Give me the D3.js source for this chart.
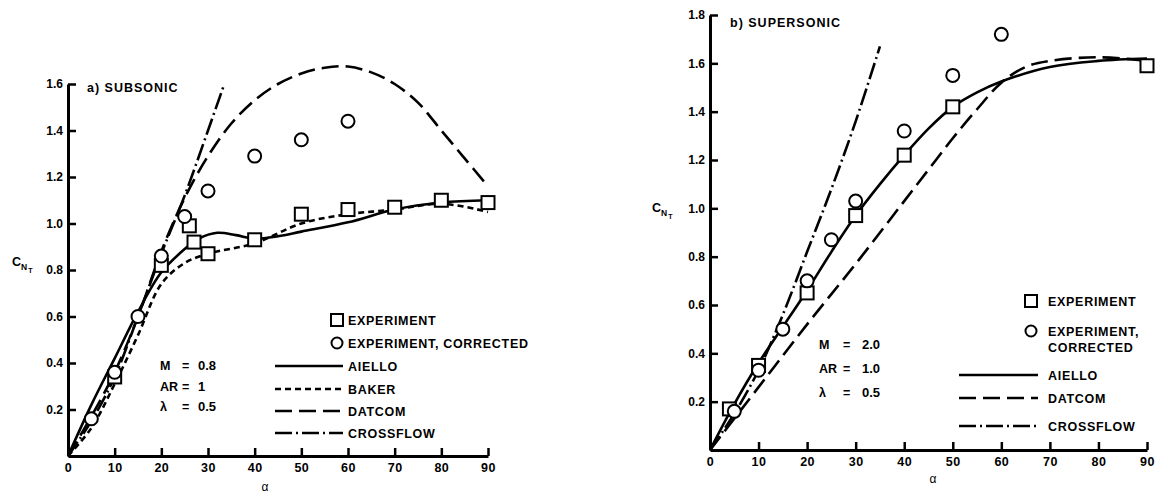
<!DOCTYPE html>
<html>
<head>
<meta charset="utf-8">
<script src="https://cdn.jsdelivr.net/npm/d3@7"></script>
<style>
  body { margin: 0; background: #fff; }
  text { font-family: "Liberation Sans", Arial, sans-serif; font-weight: bold; fill: #000; }
</style>
</head>
<body>
<div id="chart"></div>
<script>
// ---- data ----
const alphaTicks = [0, 10, 20, 30, 40, 50, 60, 70, 80, 90];
const subTicksY = [0.2, 0.4, 0.6, 0.8, 1.0, 1.2, 1.4, 1.6];
const supTicksY = [0.2, 0.4, 0.6, 0.8, 1.0, 1.2, 1.4, 1.6, 1.8];

// a) subsonic
const subExp = [[10, 0.34], [20, 0.82], [26, 0.99], [27, 0.92], [30, 0.87], [40, 0.93],
                [50, 1.04], [60, 1.06], [70, 1.07], [80, 1.10], [90, 1.09]];
const subExpCorr = [[5, 0.16], [10, 0.36], [15, 0.60], [20, 0.86], [25, 1.03],
                    [30, 1.14], [40, 1.29], [50, 1.36], [60, 1.44]];
const subAiello = [[0, 0], [5, 0.22], [10, 0.42], [15, 0.62], [20, 0.79], [25, 0.89], [28, 0.935],
                   [32, 0.96], [36, 0.95], [40, 0.935], [45, 0.945], [50, 0.965], [60, 1.005],
                   [70, 1.06], [80, 1.09], [90, 1.10]];
const subBaker = [[0, 0], [5, 0.12], [10, 0.31], [15, 0.52], [20, 0.74], [25, 0.83], [30, 0.87],
                  [40, 0.915], [50, 1.0], [60, 1.04], [70, 1.06], [80, 1.085], [90, 1.05]];
const subDatcom = [[0, 0], [5, 0.17], [10, 0.36], [15, 0.60], [20, 0.88], [25, 1.11], [30, 1.29],
                   [35, 1.43], [40, 1.53], [45, 1.60], [50, 1.645], [55, 1.67], [60, 1.675],
                   [65, 1.65], [70, 1.60], [75, 1.52], [80, 1.40], [85, 1.28], [90, 1.16]];
const subCrossflow = [[0, 0], [5, 0.15], [10, 0.34], [15, 0.60], [20, 0.87], [25, 1.12],
                      [30, 1.40], [33.5, 1.60]];

// b) supersonic
const supExp = [[4, 0.17], [10, 0.35], [20, 0.65], [30, 0.97], [40, 1.22], [50, 1.42], [90, 1.59]];
const supExpCorr = [[5, 0.16], [10, 0.33], [15, 0.50], [20, 0.70], [25, 0.87], [30, 1.03],
                    [40, 1.32], [50, 1.55], [60, 1.72]];
const supAiello = [[0, 0], [5, 0.19], [10, 0.36], [15, 0.51], [20, 0.66], [25, 0.82], [30, 0.97],
                   [35, 1.10], [40, 1.22], [45, 1.33], [50, 1.42], [55, 1.48], [60, 1.525],
                   [70, 1.585], [80, 1.61], [90, 1.62]];
const supDatcom = [[0, 0], [10, 0.26], [20, 0.52], [30, 0.77], [40, 1.03], [45, 1.16], [50, 1.29],
                   [55, 1.41], [60, 1.52], [65, 1.585], [70, 1.61], [80, 1.625], [90, 1.61]];
const supCrossflow = [[0, 0], [5, 0.15], [10, 0.33], [15, 0.56], [20, 0.82], [25, 1.08],
                      [30, 1.36], [35, 1.67]];

const width = 1159, height = 493;
const svg = d3.select("#chart").append("svg")
    .attr("width", width)
    .attr("height", height);

const dashes = {
    solid: null,
    baker: "6,4",
    datcom: "17,7",
    crossflow: "17,4,2,4"
};

function panel(opt) {
    const x = d3.scaleLinear().domain([0, 90]).range(opt.xr);
    const y = d3.scaleLinear().domain([0, opt.ymax]).range(opt.yr);
    const g = svg.append("g");

    // axes, ticks pointing inward
    const xa = g.append("g")
        .attr("transform", `translate(0,${opt.yr[0]})`)
        .call(d3.axisBottom(x).tickValues(alphaTicks).tickSizeInner(-8).tickSizeOuter(0).tickPadding(7));
    xa.selectAll("text").style("font-size", "12.5px").style("letter-spacing", "0.5px");
    const ya = g.append("g")
        .attr("transform", `translate(${opt.xr[0]},0)`)
        .call(d3.axisLeft(y).tickValues(opt.yTicks).tickSizeInner(-8).tickSizeOuter(0).tickPadding(5)
            .tickFormat(d3.format(".1f")));
    ya.selectAll("text").style("font-size", "12px");
    g.selectAll(".domain, .tick line").attr("stroke", "#000").attr("stroke-width", 2.5);
    g.selectAll(".domain").attr("stroke-width", 3);

    const line = d3.line()
        .x(d => x(d[0]))
        .y(d => y(d[1]))
        .curve(d3.curveCatmullRom.alpha(0.5));

    opt.curves.forEach(c => {
        g.append("path")
            .attr("d", line(c.data))
            .attr("fill", "none")
            .attr("stroke", "#000")
            .attr("stroke-width", 2.6)
            .attr("stroke-dasharray", dashes[c.style]);
    });

    g.selectAll(".sq").data(opt.exp).enter().append("rect")
        .attr("x", d => x(d[0]) - 6.5)
        .attr("y", d => y(d[1]) - 6.5)
        .attr("width", 13).attr("height", 13)
        .attr("fill", "#fff").attr("stroke", "#000").attr("stroke-width", 2);
    g.selectAll(".ci").data(opt.corr).enter().append("circle")
        .attr("cx", d => x(d[0]))
        .attr("cy", d => y(d[1]))
        .attr("r", 6.5)
        .attr("fill", "#fff").attr("stroke", "#000").attr("stroke-width", 2);

    // title
    g.append("text").attr("x", opt.title[0]).attr("y", opt.title[1])
        .style("font-size", "12.5px").style("letter-spacing", "1px")
        .text(opt.title[2]);

    // y label C_N_T
    const yl = g.append("text").attr("x", opt.ylab[0]).attr("y", opt.ylab[1]).style("font-size", "12.5px");
    yl.append("tspan").text("C");
    yl.append("tspan").attr("dy", 4).style("font-size", "8.5px").text("N");
    yl.append("tspan").attr("dy", 3).attr("dx", 1).style("font-size", "7px").text("T");

    // x label
    g.append("text").attr("x", opt.alab[0]).attr("y", opt.alab[1])
        .attr("text-anchor", "middle").style("font-size", "12px").style("font-weight", "normal")
        .text("\u03b1");

    // parameters
    opt.params.forEach((p, i) => {
        const yy = opt.pPos[1] + i * opt.pStep;
        g.append("text").attr("x", opt.pPos[0]).attr("y", yy).style("font-size", "12.5px").text(p[0]);
        g.append("text").attr("x", opt.pPos[0] + opt.pEq).attr("y", yy).style("font-size", "12.5px").text("=");
        g.append("text").attr("x", opt.pPos[0] + opt.pVal).attr("y", yy).style("font-size", "13px").text(p[1]);
    });

    // legend
    const lg = opt.legend;
    lg.items.forEach(it => {
        if (it.type === "square") {
            g.append("rect").attr("x", lg.mx - 6).attr("y", it.y - 6).attr("width", 12).attr("height", 12)
                .attr("fill", "#fff").attr("stroke", "#000").attr("stroke-width", 2);
        } else if (it.type === "circle") {
            g.append("circle").attr("cx", lg.mx).attr("cy", it.y).attr("r", 5.5)
                .attr("fill", "#fff").attr("stroke", "#000").attr("stroke-width", 2);
        } else {
            g.append("line").attr("x1", lg.l0).attr("x2", lg.l1).attr("y1", it.y).attr("y2", it.y)
                .attr("stroke", "#000").attr("stroke-width", 2.6)
                .attr("stroke-dasharray", dashes[it.type]);
        }
        it.text.forEach((t, k) => {
            g.append("text").attr("x", lg.tx).attr("y", it.y + 5 + k * 16)
                .style("font-size", "12.5px").style("letter-spacing", "0.7px").text(t);
        });
    });
}

panel({
    xr: [68, 488], yr: [456, 84], ymax: 1.6, yTicks: subTicksY,
    exp: subExp, corr: subExpCorr,
    curves: [
        { data: subAiello, style: "solid" },
        { data: subBaker, style: "baker" },
        { data: subDatcom, style: "datcom" },
        { data: subCrossflow, style: "crossflow" }
    ],
    title: [87, 92, "a)  SUBSONIC"],
    ylab: [12, 266],
    alab: [265, 491],
    params: [["M", "0.8"], ["AR", "1"], ["\u03bb", "0.5"]],
    pPos: [160, 370], pStep: 20.5, pEq: 22, pVal: 38,
    legend: {
        mx: 337, l0: 275, l1: 343, tx: 348,
        items: [
            { type: "square", y: 320, text: ["EXPERIMENT"] },
            { type: "circle", y: 343, text: ["EXPERIMENT, CORRECTED"] },
            { type: "solid", y: 366, text: ["AIELLO"] },
            { type: "baker", y: 389, text: ["BAKER"] },
            { type: "datcom", y: 411, text: ["DATCOM"] },
            { type: "crossflow", y: 433, text: ["CROSSFLOW"] }
        ]
    }
});

panel({
    xr: [710, 1147], yr: [450, 15], ymax: 1.8, yTicks: supTicksY,
    exp: supExp, corr: supExpCorr,
    curves: [
        { data: supAiello, style: "solid" },
        { data: supDatcom, style: "datcom" },
        { data: supCrossflow, style: "crossflow" }
    ],
    title: [730, 27, "b)  SUPERSONIC"],
    ylab: [652, 212],
    alab: [933, 483],
    params: [["M", "2.0"], ["AR", "1.0"], ["\u03bb", "0.5"]],
    pPos: [819, 349], pStep: 24, pEq: 24, pVal: 43,
    legend: {
        mx: 1031, l0: 959, l1: 1038, tx: 1048,
        items: [
            { type: "square", y: 301, text: ["EXPERIMENT"] },
            { type: "circle", y: 331, text: ["EXPERIMENT,", "CORRECTED"] },
            { type: "solid", y: 375, text: ["AIELLO"] },
            { type: "datcom", y: 398, text: ["DATCOM"] },
            { type: "crossflow", y: 426, text: ["CROSSFLOW"] }
        ]
    }
});
</script>
</body>
</html>
